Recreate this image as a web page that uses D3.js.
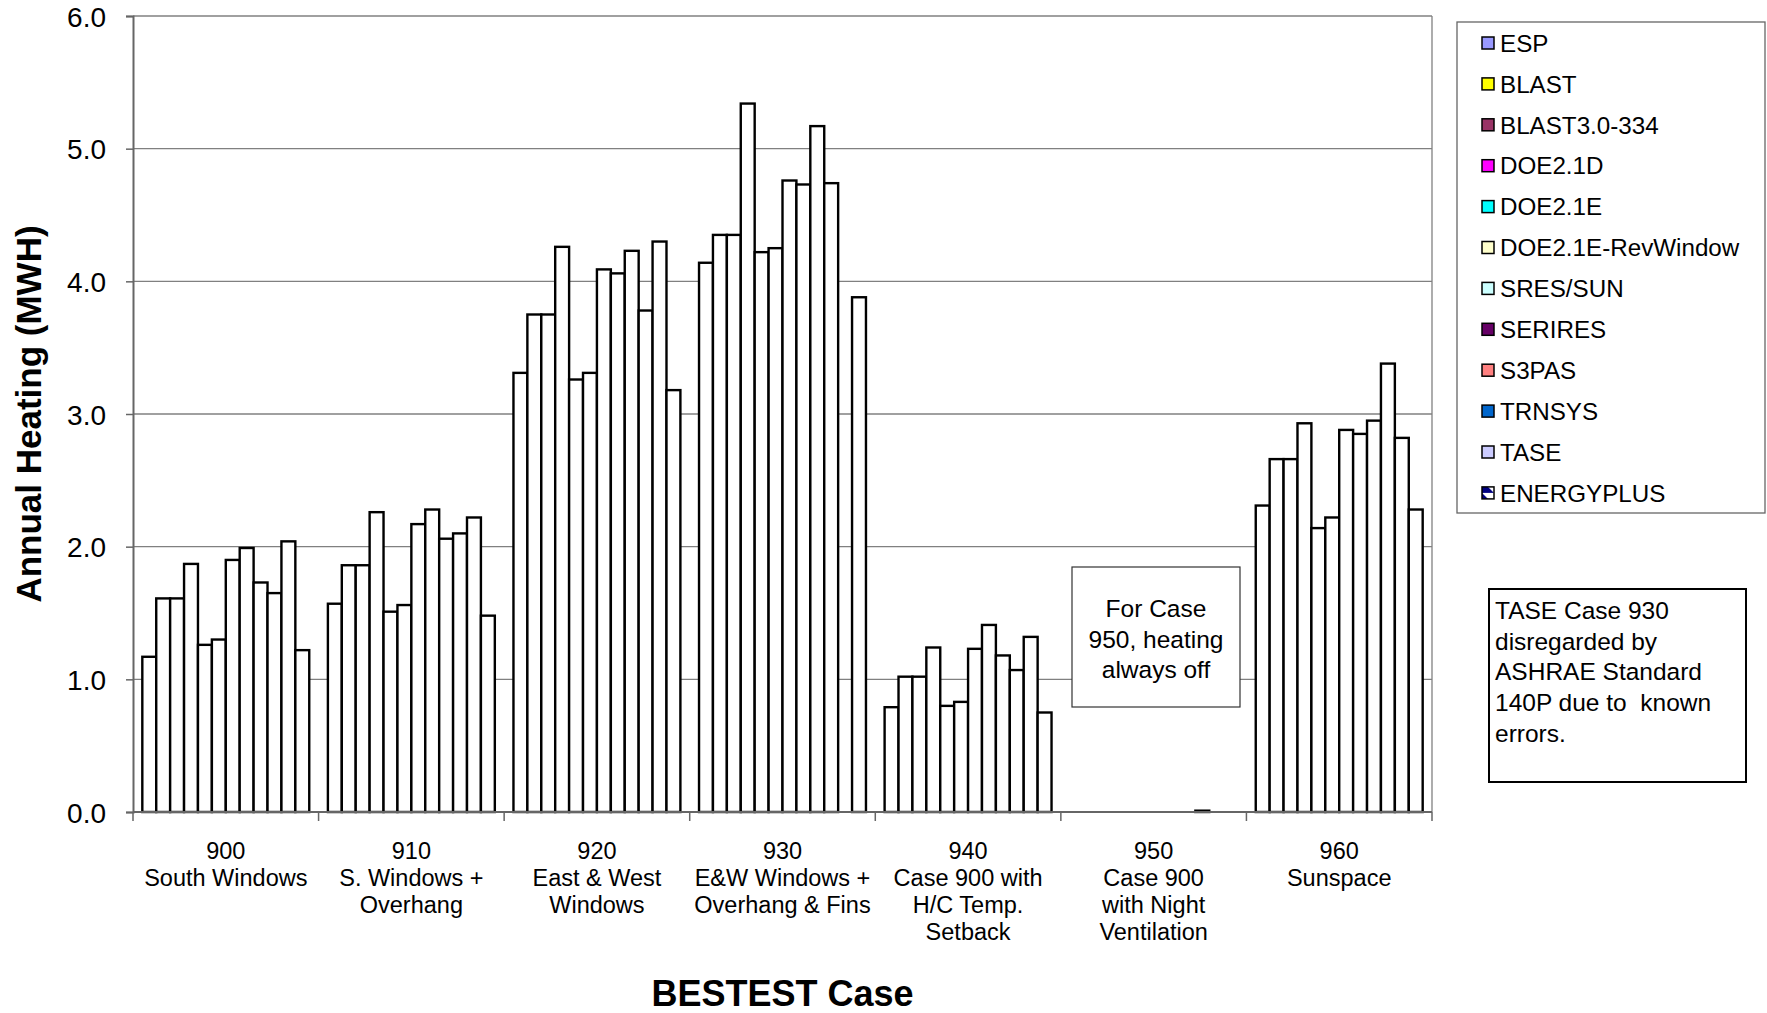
<!DOCTYPE html>
<html>
<head>
<meta charset="utf-8">
<script src="https://cdn.jsdelivr.net/npm/d3@7"></script>
<style>
  body { margin: 0; background: #fff; }
  text { font-family: "Liberation Sans", Arial, sans-serif; fill: #000; }
</style>
</head>
<body>
<script>
// categories (BESTEST cases) and their two-to-four line labels
const cases = ["900", "910", "920", "930", "940", "950", "960"]
const caseLabels = [
    ["900", "South Windows"],
    ["910", "S. Windows +", "Overhang"],
    ["920", "East & West", "Windows"],
    ["930", "E&W Windows +", "Overhang & Fins"],
    ["940", "Case 900 with", "H/C Temp.", "Setback"],
    ["950", "Case 900", "with Night", "Ventilation"],
    ["960", "Sunspace"]
]

// series = simulation programs
const programs = ["ESP", "BLAST", "BLAST3.0-334", "DOE2.1D", "DOE2.1E", "DOE2.1E-RevWindow",
    "SRES/SUN", "SERIRES", "S3PAS", "TRNSYS", "TASE", "ENERGYPLUS"]
const programColors = ["#9999ff", "#ffff00", "#993366", "#ff00ff", "#00ffff", "#ffffcc",
    "#ccffff", "#660066", "#ff8080", "#0066cc", "#ccccff", "#000080"]

// annual heating (MWH), one value per program, in the order above
const case900 = [1.17, 1.61, 1.61, 1.87, 1.26, 1.30, 1.90, 1.99, 1.73, 1.65, 2.04, 1.22]
const case910 = [1.57, 1.86, 1.86, 2.26, 1.51, 1.56, 2.17, 2.28, 2.06, 2.10, 2.22, 1.48]
const case920 = [3.31, 3.75, 3.75, 4.26, 3.26, 3.31, 4.09, 4.06, 4.23, 3.78, 4.30, 3.18]
const case930 = [4.14, 4.35, 4.35, 5.34, 4.22, 4.25, 4.76, 4.73, 5.17, 4.74, null, 3.88]
const case940 = [0.79, 1.02, 1.02, 1.24, 0.80, 0.83, 1.23, 1.41, 1.18, 1.07, 1.32, 0.75]
const case950 = [0, 0, 0, 0, 0, 0, 0, 0, 0, 0.01, 0, 0]
const case960 = [2.31, 2.66, 2.66, 2.93, 2.14, 2.22, 2.88, 2.85, 2.95, 3.38, 2.82, 2.28]
const caseValues = [case900, case910, case920, case930, case940, case950, case960]

const yTicks = [0, 1, 2, 3, 4, 5, 6]

const W = 1767, H = 1013
const plot = { left: 133, right: 1432, top: 16, bottom: 812 }

const svg = d3.select("body").append("svg")
    .attr("width", W)
    .attr("height", H)

const x = d3.scaleBand()
    .domain(cases)
    .range([plot.left, plot.right])

const xi = d3.scaleBand()
    .domain(programs)
    .range([0, x.bandwidth()])
    .paddingOuter(0.67)

const y = d3.scaleLinear()
    .domain([0, 6])
    .range([plot.bottom, plot.top])

// gridlines
svg.append("g")
    .selectAll("line")
    .data(yTicks)
    .join("line")
    .attr("x1", plot.left)
    .attr("x2", plot.right)
    .attr("y1", d => y(d))
    .attr("y2", d => y(d))
    .attr("stroke", "#808080")
    .attr("stroke-width", 1.3)

// right edge of plot area
svg.append("line")
    .attr("x1", plot.right).attr("x2", plot.right)
    .attr("y1", plot.top).attr("y2", plot.bottom)
    .attr("stroke", "#808080")
    .attr("stroke-width", 1.3)

// bars
const groups = svg.append("g")
    .selectAll("g")
    .data(caseValues)
    .join("g")
    .attr("transform", (d, i) => `translate(${x(cases[i])},0)`)

groups.selectAll("rect")
    .data(d => d.map((v, j) => ({ program: programs[j], value: v })).filter(e => e.value != null && e.value > 0))
    .join("rect")
    .attr("x", d => xi(d.program))
    .attr("width", xi.bandwidth())
    .attr("y", d => y(d.value))
    .attr("height", d => Math.max(y(0) - y(d.value), 0.5))
    .attr("fill", "#fff")
    .attr("stroke", "#000")
    .attr("stroke-width", 2.4)

// y axis
const yAxis = d3.axisLeft(y)
    .tickValues(yTicks)
    .tickFormat(d3.format(".1f"))
    .tickSize(7)
    .tickPadding(20)

const gy = svg.append("g")
    .attr("transform", `translate(${plot.left},0)`)
    .call(yAxis)
gy.select(".domain").attr("stroke", "#666").attr("stroke-width", 2)
gy.selectAll(".tick line").attr("stroke", "#666").attr("stroke-width", 1.5)
gy.selectAll(".tick text")
    .style("font-size", "28px")
    .attr("fill", "#000")
    .attr("dy", "0.36em")

// x axis: ticks at group boundaries
const gx = svg.append("g")
gx.append("line")
    .attr("x1", plot.left).attr("x2", plot.right)
    .attr("y1", plot.bottom).attr("y2", plot.bottom)
    .attr("stroke", "#666")
    .attr("stroke-width", 2)
gx.selectAll(".sep")
    .data(cases.concat(["end"]))
    .join("line")
    .attr("class", "sep")
    .attr("x1", (d, i) => i < cases.length ? x(d) : plot.right)
    .attr("x2", (d, i) => i < cases.length ? x(d) : plot.right)
    .attr("y1", plot.bottom)
    .attr("y2", plot.bottom + 9)
    .attr("stroke", "#666")
    .attr("stroke-width", 1.5)

// category labels
gx.selectAll(".cat")
    .data(caseLabels)
    .join("text")
    .attr("class", "cat")
    .attr("text-anchor", "middle")
    .style("font-size", "23.5px")
    .attr("transform", (d, i) => `translate(${x(cases[i]) + x.bandwidth() / 2},0)`)
    .selectAll("tspan")
    .data(d => d)
    .join("tspan")
    .attr("x", 0)
    .attr("y", (d, k) => 859 + k * 27)
    .text(d => d)

// axis titles
svg.append("text")
    .attr("x", (plot.left + plot.right) / 2)
    .attr("y", 1006)
    .attr("text-anchor", "middle")
    .style("font-size", "36px")
    .style("font-weight", "bold")
    .text("BESTEST Case")

svg.append("text")
    .attr("transform", `translate(41,${(plot.top + plot.bottom) / 2}) rotate(-90)`)
    .attr("text-anchor", "middle")
    .style("font-size", "35px")
    .style("font-weight", "bold")
    .text("Annual Heating (MWH)")

// legend
const defs = svg.append("defs")
const pat = defs.append("pattern")
    .attr("id", "eplus")
    .attr("patternUnits", "userSpaceOnUse")
    .attr("width", 12).attr("height", 12)
pat.append("rect").attr("width", 12).attr("height", 12).attr("fill", "#fff")
pat.append("path").attr("d", "M0,0 L12,12 L0,12 Z").attr("fill", "#000080")

svg.append("rect")
    .attr("x", 1457).attr("y", 22)
    .attr("width", 308).attr("height", 491)
    .attr("fill", "#fff")
    .attr("stroke", "#666")
    .attr("stroke-width", 1.3)
    .lower()

const items = svg.append("g")
    .selectAll("g")
    .data(programs)
    .join("g")
    .attr("transform", (d, i) => `translate(1482,${43 + i * 40.9})`)
items.append("rect")
    .attr("x", 0).attr("y", -6)
    .attr("width", 12).attr("height", 12)
    .attr("fill", (d, i) => i === programs.length - 1 ? "url(#eplus)" : programColors[i])
    .attr("stroke", "#000")
    .attr("stroke-width", 1.5)
items.append("text")
    .attr("x", 18)
    .attr("y", 0)
    .attr("dy", "0.36em")
    .style("font-size", "24.2px")
    .text(d => d)

// note: case 950
svg.append("rect")
    .attr("x", 1072).attr("y", 567)
    .attr("width", 168).attr("height", 140)
    .attr("fill", "#fff")
    .attr("stroke", "#333")
    .attr("stroke-width", 1.2)
svg.append("text")
    .attr("text-anchor", "middle")
    .style("font-size", "24.5px")
    .selectAll("tspan")
    .data(["For Case", "950, heating", "always off"])
    .join("tspan")
    .attr("x", 1156)
    .attr("y", (d, k) => 617 + k * 30.5)
    .text(d => d)

// note: TASE case 930
svg.append("rect")
    .attr("x", 1489).attr("y", 589)
    .attr("width", 257).attr("height", 193)
    .attr("fill", "#fff")
    .attr("stroke", "#000")
    .attr("stroke-width", 2)
svg.append("text")
    .style("font-size", "24.5px")
    .selectAll("tspan")
    .data(["TASE Case 930", "disregarded by", "ASHRAE Standard", "140P due to  known", "errors."])
    .join("tspan")
    .attr("x", 1495)
    .attr("y", (d, k) => 619 + k * 30.7)
    .style("white-space", "pre")
    .text(d => d)
</script>
</body>
</html>
